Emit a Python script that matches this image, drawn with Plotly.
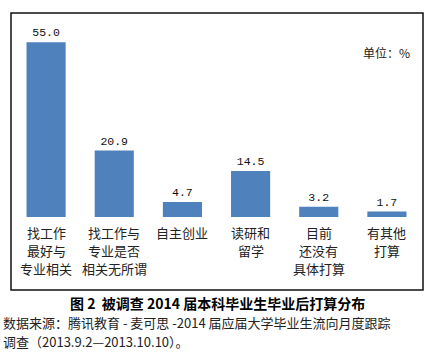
import plotly.graph_objects as go

category_lines = [["找工作", "最好与", "专业相关"],
                  ["找工作与", "专业是否", "相关无所谓"],
                  ["自主创业"],
                  ["读研和", "留学"],
                  ["目前", "还没有", "具体打算"],
                  ["有其他", "打算"]]
categories = ["".join(lines) for lines in category_lines]
values = [55.0, 20.9, 4.7, 14.5, 3.2, 1.7]
unit_label = "单位：%"
caption = "<b>图 2  被调查 2014 届本科毕业生毕业后打算分布</b>"
source_line1 = "数据来源：腾讯教育 - 麦可思 -2014 届应届大学毕业生流向月度跟踪"
source_line2 = "调查（2013.9.2—2013.10.10）。"

W, H = 433, 358
L, R, T, B = 12, 12, 13, 141
pw = W - L - R
ph = H - T - B

def px_to_px(xp):
    return (xp - L) / pw

def py_to_py(yp):
    return (H - B - yp) / ph

cjk = "Noto Sans CJK SC"

fig = go.Figure()
fig.add_trace(go.Bar(
    x=categories, y=values,
    marker=dict(color="#4F81BD", line=dict(width=0)),
    texttemplate="%{y:.1f}", textposition="outside",
    textfont=dict(family="Liberation Mono", size=11.5, color="#111"),
    cliponaxis=False,
))

fig.update_layout(
    width=W, height=H,
    margin=dict(l=L, r=R, t=T, b=B, autoexpand=False),
    paper_bgcolor="white", plot_bgcolor="white",
    bargap=0.426,
    showlegend=False,
    font=dict(family=cjk, size=13, color="#000"),
    xaxis=dict(showline=False, showgrid=False, zeroline=False, ticks="",
               showticklabels=False, automargin=False),
    yaxis=dict(visible=False, range=[0, 64.2], automargin=False),
)

# category labels, one line each
for cat, lines in zip(categories, category_lines):
    for i, line in enumerate(lines):
        fig.add_annotation(text=line, xref="x", yref="paper", x=cat,
                           y=py_to_py(232 + 18 * i), xanchor="center", yanchor="middle",
                           showarrow=False, font=dict(family=cjk, size=13, color="#222"))

fig.add_shape(type="rect", xref="paper", yref="paper",
              x0=px_to_px(11), x1=px_to_px(423), y0=py_to_py(290), y1=py_to_py(13),
              line=dict(color="#111", width=1.5), fillcolor="rgba(0,0,0,0)")

fig.add_annotation(text=unit_label, xref="paper", yref="paper",
                   x=px_to_px(412), y=py_to_py(52), xanchor="right", yanchor="middle",
                   showarrow=False, font=dict(family=cjk, size=12, color="#222"))
fig.add_annotation(text=caption, xref="paper", yref="paper",
                   x=px_to_px(217), y=py_to_py(303), xanchor="center", yanchor="middle",
                   showarrow=False, font=dict(family=cjk, size=14, color="#000"))
fig.add_annotation(text=source_line1, xref="paper", yref="paper",
                   x=px_to_px(1), y=py_to_py(322), xanchor="left", yanchor="middle",
                   showarrow=False, font=dict(family=cjk, size=13, color="#222"))
fig.add_annotation(text=source_line2, xref="paper", yref="paper",
                   x=px_to_px(1), y=py_to_py(341), xanchor="left", yanchor="middle",
                   showarrow=False, font=dict(family=cjk, size=13, color="#222"))

fig.write_html("out.html", config={"displayModeBar": False},
               post_script="document.body.style.margin='0';")
